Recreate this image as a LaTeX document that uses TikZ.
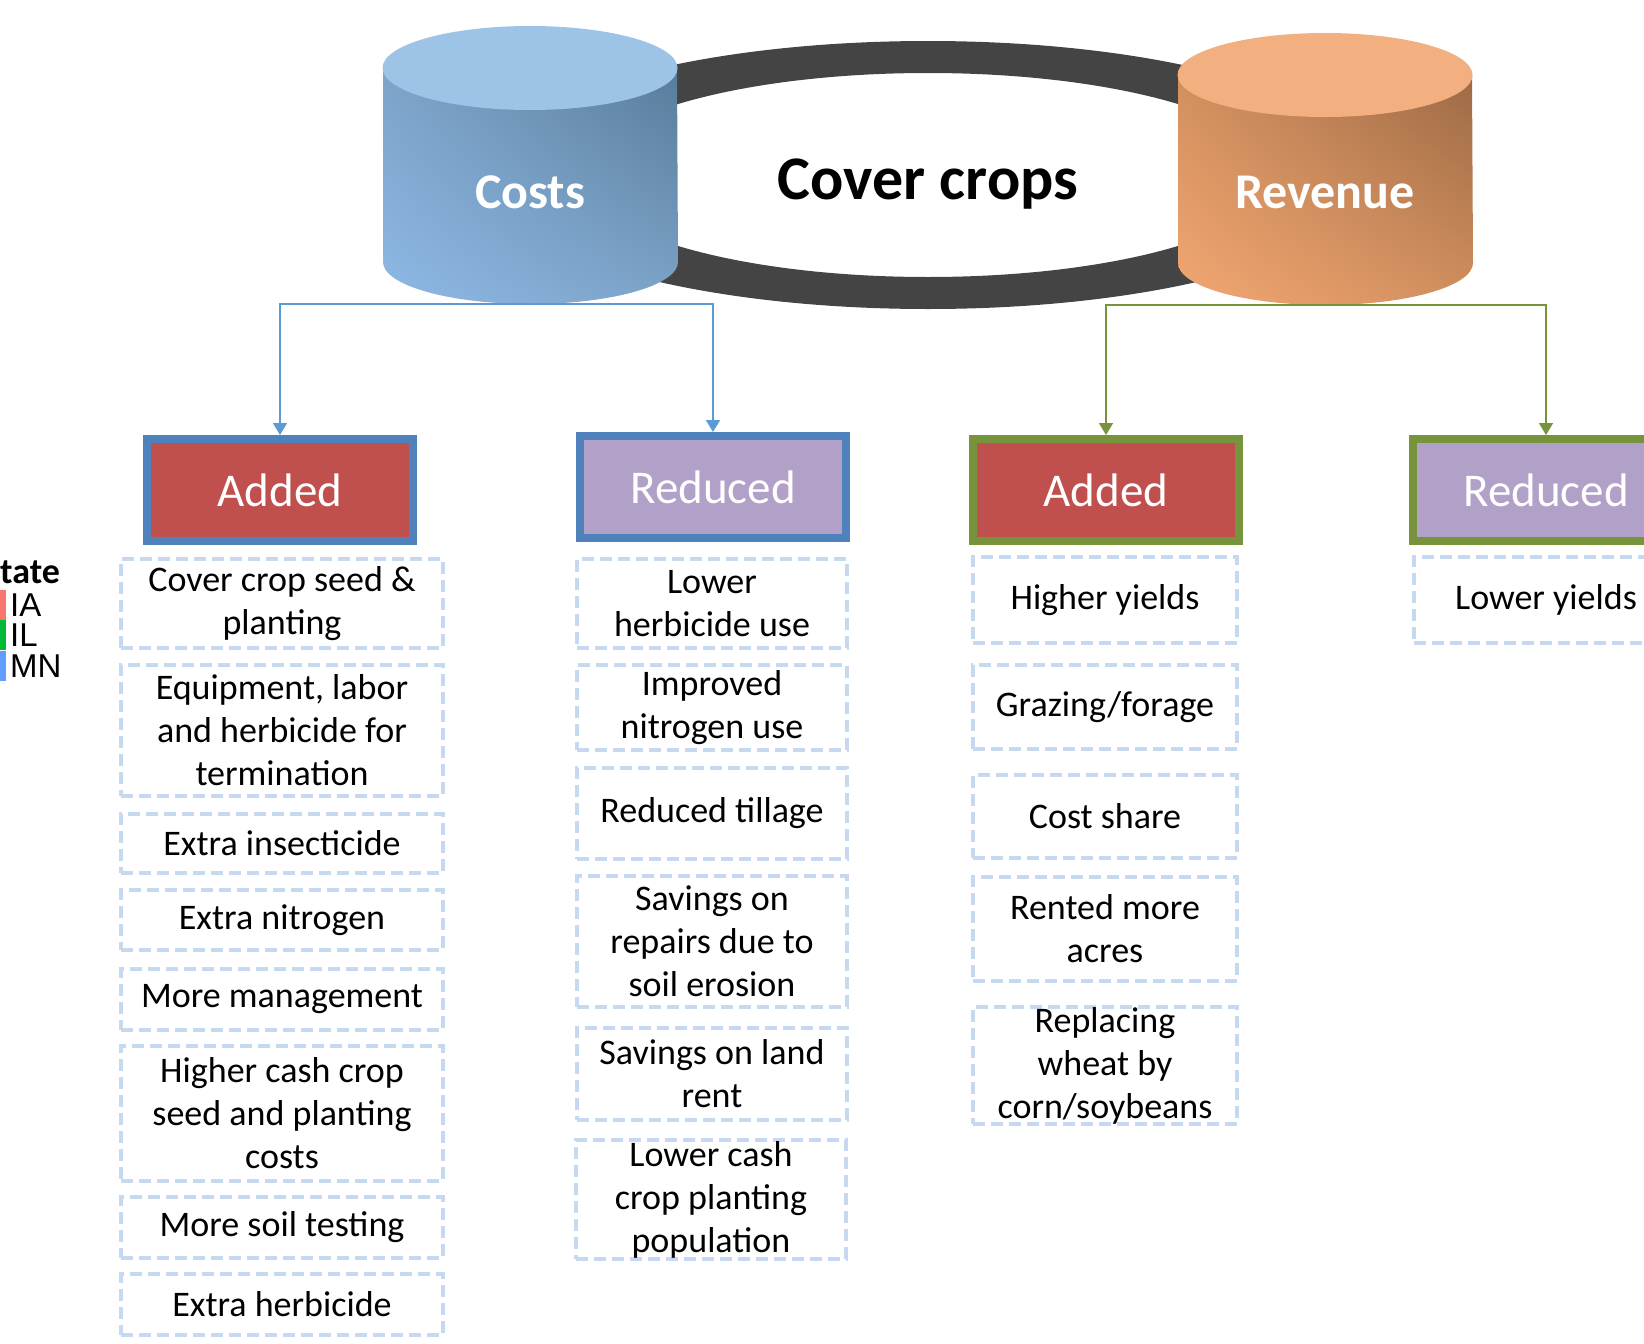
\documentclass[tikz,border=0pt]{standalone}
\usepackage{fontspec}
\setmainfont{Carlito}
\newfontfamily\legendfont{Liberation Sans}
\usetikzlibrary{arrows.meta,shadings}
\definecolor{costframe}{HTML}{4F81BD}
\definecolor{costwire}{HTML}{5B9BD5}
\definecolor{revframe}{HTML}{77933C}
\definecolor{addedfill}{HTML}{C0504D}
\definecolor{reducedfill}{HTML}{B1A0C7}
\definecolor{itemdash}{HTML}{C6D9F1}
\definecolor{ringgray}{HTML}{444444}
\definecolor{costtop}{HTML}{9DC3E6}
\definecolor{costlight}{HTML}{8DB9E5}
\definecolor{costmid}{HTML}{7DA3C8}
\definecolor{costdark}{HTML}{587B9B}
\definecolor{revtop}{HTML}{F2AF7F}
\definecolor{revlight}{HTML}{F2A773}
\definecolor{revmid}{HTML}{D28F5E}
\definecolor{revdark}{HTML}{9C6A45}
\definecolor{stateia}{HTML}{F8766D}
\definecolor{stateil}{HTML}{00BA38}
\definecolor{statemn}{HTML}{619CFF}

\tikzset{
  cylframe/.style={minimum width=295pt, inner sep=0pt},
  cyltext/.style={text=white, font=\bfseries\fontsize{50}{60}\selectfont},
  header/.style={draw, line width=8pt, minimum width=266pt, minimum height=102pt,
    text=white, font=\fontsize{47}{56}\selectfont},
  item/.style={draw=itemdash, line width=4pt, dash pattern=on 12pt off 6pt,
    align=center, inner sep=0pt, font=\fontsize{36}{43}\selectfont},
  colA/.style={item, minimum width=322pt},
  colB/.style={item, minimum width=270pt},
  colC/.style={item, minimum width=264pt},
  link/.style={line width=1.6pt, -{Triangle[width=14pt,length=12pt]}},
  legend/.style={anchor=west, inner sep=0pt, font=\legendfont\fontsize{33}{40}\selectfont}
}

\begin{document}
\begin{tikzpicture}[x=1pt, y=-1pt]
  \useasboundingbox (0,0) rectangle (1644,1344);
  \clip (0,0) rectangle (1644,1344);

  % ring behind the two barrels
  \fill[ringgray, even odd rule]
    (928,175) ellipse[x radius=446, y radius=134]
    (928,175) ellipse[x radius=348, y radius=102];
  \node[font=\bfseries\fontsize{62}{70}\selectfont, anchor=base] (covercrops)
    at (928,199) {Cover crops};

  % costs barrel
  \node[cylframe, minimum height=278pt] (costs) at (530,165) {};
  \shade[lower left=costlight, upper right=costdark, upper left=costmid, lower right=costmid]
    (383,68) -- (383,262) arc[start angle=180, end angle=0, x radius=147.5, y radius=42]
    -- (677,68) -- cycle;
  \fill[costtop] (530,68) ellipse[x radius=147.5, y radius=42];
  \node[cyltext] (coststext) at (530,192) {Costs};

  % revenue barrel
  \node[cylframe, minimum height=272pt] (revenue) at (1325,169) {};
  \shade[lower left=revlight, upper right=revdark, upper left=revmid, lower right=revmid]
    (1178,75) -- (1178,263) arc[start angle=180, end angle=0, x radius=147.5, y radius=42]
    -- (1472,75) -- cycle;
  \fill[revtop] (1325,75) ellipse[x radius=147.5, y radius=42];
  \node[cyltext] (revenuetext) at (1325,192) {Revenue};

  % group headers
  \node[header, draw=costframe, fill=addedfill] (cadd) at (280,490) {Added};
  \node[header, draw=costframe, fill=reducedfill] (cred) at (713,487) {Reduced};
  \node[header, draw=revframe, fill=addedfill] (radd) at (1106,490) {Added};
  \node[header, draw=revframe, fill=reducedfill] (rred) at (1546,490) {Reduced};

  \draw[link, costwire] (costs.south) -| (cadd.north);
  \draw[link, costwire] (costs.south) -| (cred.north);
  \draw[link, revframe] (revenue.south) -| (radd.north);
  \draw[link, revframe] (revenue.south) -| (rred.north);

  % added costs
  \node[colA, minimum height=89pt] (ca1) at (282,603.5) {Cover crop seed \&\\planting};
  \node[colA, minimum height=131pt] (ca2) at (282,730.5) {Equipment, labor\\and herbicide for\\termination};
  \node[colA, minimum height=59pt] (ca3) at (282,843.5) {Extra insecticide};
  \node[colA, minimum height=60pt] (ca4) at (282,920) {Extra nitrogen};
  \node[colA, minimum height=61pt] (ca5) at (282,999.5) {More management};
  \node[colA, minimum height=135pt] (ca6) at (282,1113.5) {Higher cash crop\\seed and planting\\costs};
  \node[colA, minimum height=61pt] (ca7) at (282,1227.5) {More soil testing};
  \node[colA, minimum height=61pt] (ca8) at (282,1304.5) {Extra herbicide};

  % reduced costs
  \node[colB, minimum height=89pt] (cr1) at (712,603.5) {Lower\\herbicide use};
  \node[colB, minimum height=85pt] (cr2) at (712,707.5) {Improved\\nitrogen use};
  \node[colB, minimum height=91pt] (cr3) at (712,813.5) {Reduced tillage};
  \node[colB, minimum height=131pt] (cr4) at (712,941.5) {Savings on\\repairs due to\\soil erosion};
  \node[colB, minimum height=92pt] (cr5) at (712,1074) {Savings on land\\rent};
  \node[colB, minimum height=119pt] (cr6) at (711,1199.5) {Lower cash\\crop planting\\population};

  % added revenue
  \node[colC, minimum height=86pt] (ra1) at (1105,600) {Higher yields};
  \node[colC, minimum height=84pt] (ra2) at (1105,707) {Grazing/forage};
  \node[colC, minimum height=83pt] (ra3) at (1105,816.5) {Cost share};
  \node[colC, minimum height=104pt] (ra4) at (1105,929) {Rented more\\acres};
  \node[colC, minimum height=117pt] (ra5) at (1105,1065.5) {Replacing\\wheat by\\corn/soybeans};

  % reduced revenue
  \node[colC, minimum height=86pt] (rr1) at (1546,600) {Lower yields};

  % state key
  \node[anchor=base west, inner sep=0pt, font=\bfseries\fontsize{36}{43}\selectfont] (statekey)
    at (0,583) {tate};
  \fill[stateia] (0,590) rectangle (6,620);
  \node[legend] (keyia) at (10,605) {IA};
  \fill[stateil] (0,620) rectangle (6,650);
  \node[legend] (keyil) at (10,635) {IL};
  \fill[statemn] (0,651) rectangle (6,681);
  \node[legend] (keymn) at (10,666) {MN};
\end{tikzpicture}
\end{document}
